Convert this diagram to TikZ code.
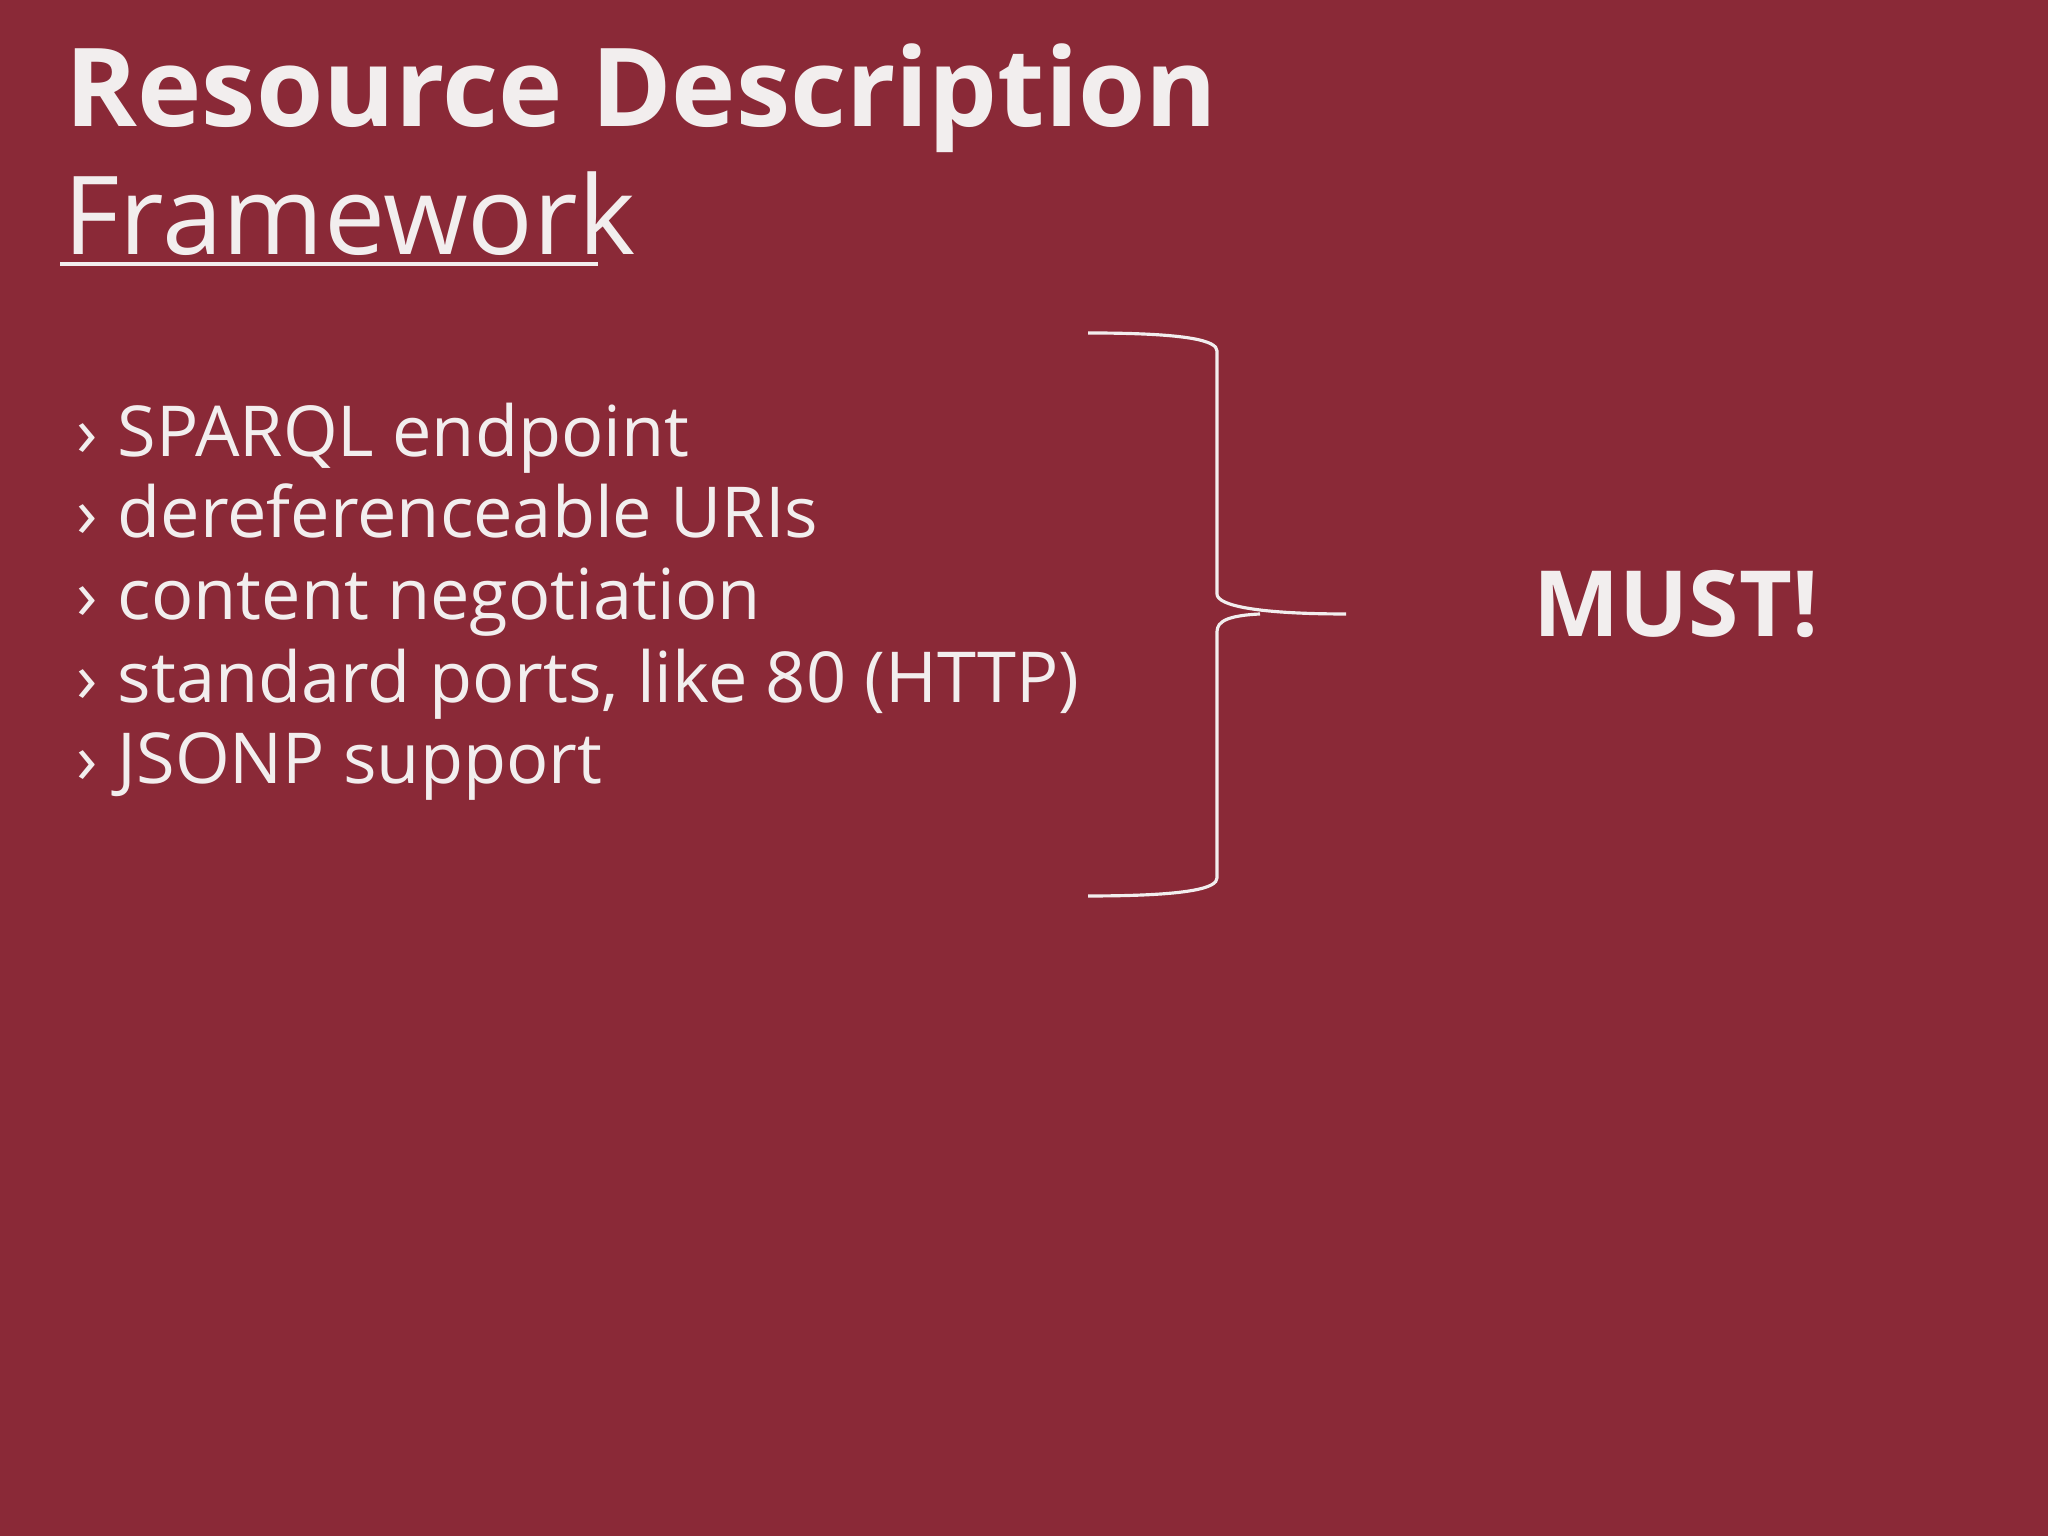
\documentclass[tikz,border=0pt]{standalone}
\usepackage{fontspec}
\setmainfont{Open Sans}
\definecolor{bg}{HTML}{8A2937}
\definecolor{fg}{HTML}{F2EEEE}
\begin{document}
\begin{tikzpicture}[x=1cm,y=1cm,
  txt/.style={anchor=base west,inner sep=0pt,text=fg},
  bul/.style={txt,font=\fontsize{20pt}{24pt}\selectfont}]
\fill[bg] (0,0) rectangle (20.48,15.36);
\useasboundingbox (0,0) rectangle (20.48,15.36);
\node[txt,font=\fontsize{31pt}{36pt}\selectfont\bfseries] (t1) at (0.65,14.09) {Resource Description};
\node[txt,font=\fontsize{31pt}{36pt}\selectfont] (t2) at (0.63,12.81) {Framework};
\draw[fg,line width=1.4pt] (0.60,12.72) -- (5.98,12.72);
\foreach \y/\t [count=\i] in {10.79/SPARQL endpoint,9.98/dereferenceable URIs,9.16/content negotiation,8.33/{standard ports, like 80 (HTTP)},7.52/JSONP support}{
  \node[bul] (b\i) at (0.76,\y) {›};
  \node[bul] (l\i) at (1.17,\y) {\t};
}
\draw[fg,line width=0.9pt] (10.88,12.03) .. controls (11.9,12.03) and (12.17,11.95) .. (12.17,11.85)
  -- (12.17,9.42) .. controls (12.17,9.3) and (12.6,9.22) .. (13.46,9.22)
  (12.6,9.22) .. controls (12.17,9.2) and (12.17,9.1) .. (12.17,9.02)
  -- (12.17,6.58) .. controls (12.17,6.48) and (11.9,6.40) .. (10.88,6.40);
\node[txt,font=\fontsize{26pt}{30pt}\selectfont\bfseries] (must) at (15.33,8.99) {MUST!};
\end{tikzpicture}
\end{document}
